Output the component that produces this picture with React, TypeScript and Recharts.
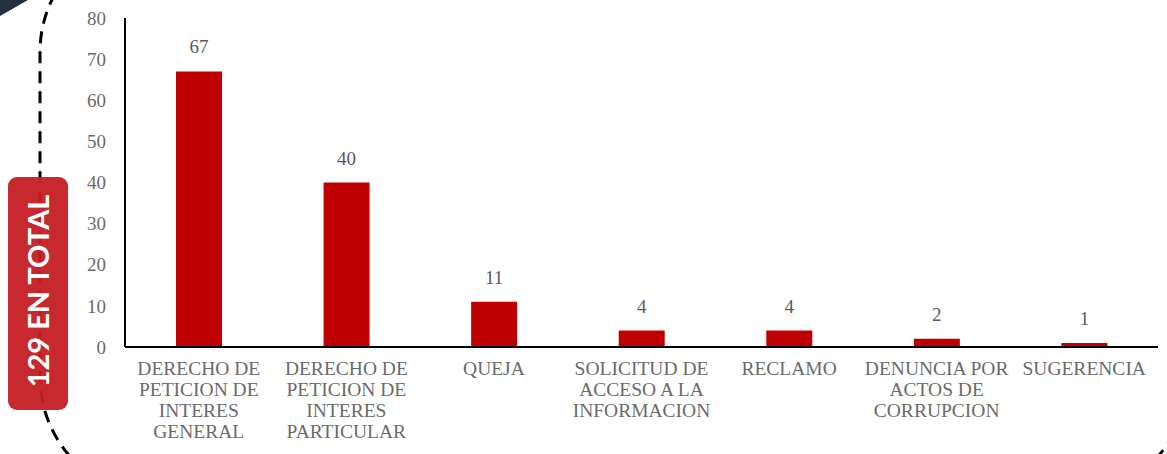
import React from 'react';
import { BarChart, Bar, XAxis, YAxis, LabelList } from 'recharts';

const categories = [
  'DERECHO DE PETICION DE INTERES GENERAL',
  'DERECHO DE PETICION DE INTERES PARTICULAR',
  'QUEJA',
  'SOLICITUD DE ACCESO A LA INFORMACION',
  'RECLAMO',
  'DENUNCIA POR ACTOS DE CORRUPCION',
  'SUGERENCIA',
];
const labelLines: string[][] = [
  ['DERECHO DE', 'PETICION DE', 'INTERES', 'GENERAL'],
  ['DERECHO DE', 'PETICION DE', 'INTERES', 'PARTICULAR'],
  ['QUEJA'],
  ['SOLICITUD DE', 'ACCESO A LA', 'INFORMACION'],
  ['RECLAMO'],
  ['DENUNCIA POR', 'ACTOS DE', 'CORRUPCION'],
  ['SUGERENCIA'],
];
const values = [67, 40, 11, 4, 4, 2, 1];
const yTicks = [0, 10, 20, 30, 40, 50, 60, 70, 80];
const totalLabel = '129 EN TOTAL';

const data = categories.map((c, i) => ({ name: c, value: values[i], idx: i }));

const FONT = '"Liberation Serif", "Times New Roman", serif';

const CatTick = (props: any) => {
  const { x, y, payload } = props;
  const idx = categories.indexOf(payload.value);
  const lines = labelLines[idx] || [payload.value];
  return (
    <text x={x} y={y} textAnchor="middle" fill="#6a6a6a" fontFamily={FONT} fontSize={19.5}>
      {lines.map((l, i) => (
        <tspan key={i} x={x} y={y + 20 + i * 21}>
          {l}
        </tspan>
      ))}
    </text>
  );
};

export default function App() {
  return (
    <div style={{ position: 'absolute', left: 0, top: 0, width: 1167, height: 454, overflow: 'hidden', background: '#fff' }}>
      <svg width={1167} height={454} style={{ position: 'absolute', left: 0, top: 0 }}>
        <polygon points="0,0 28,0 0,16" fill="#232f3e" />
        <rect
          x={40}
          y={-68}
          width={1148}
          height={565}
          rx={120}
          ry={120}
          fill="none"
          stroke="#000"
          strokeWidth={3}
          strokeDasharray="12 8"
        />
        <rect x={8} y={177} width={60} height={233} rx={9} ry={9} fill="#c41e24" fillOpacity={0.95} />
        <text
          x={0}
          y={0}
          transform="translate(49,291) rotate(-90)"
          textAnchor="middle"
          fill="#fff"
          fontFamily="Lato, 'Open Sans', sans-serif"
          fontWeight={700}
          fontSize={29}
        >
          {totalLabel}
        </text>
      </svg>
      <div style={{ position: 'absolute', left: 0, top: 0 }}>
        <BarChart
          width={1167}
          height={454}
          data={data}
          margin={{ top: 18, right: 9, bottom: 0, left: 0 }}
          barSize={46}
        >
          <YAxis
            width={125}
            domain={[0, 80]}
            ticks={yTicks}
            interval={0}
            tickLine={false}
            tickSize={0}
            tickMargin={19}
            axisLine={{ stroke: '#000', strokeWidth: 2 }}
            tick={{ fill: '#6a6a6a', fontFamily: FONT, fontSize: 19 }}
          />
          <XAxis
            dataKey="name"
            height={107}
            interval={0}
            tickLine={false}
            axisLine={{ stroke: '#000', strokeWidth: 2 }}
            tick={<CatTick />}
          />
          <Bar dataKey="value" fill="#c00000" isAnimationActive={false}>
            <LabelList
              dataKey="value"
              position="top"
              offset={18}
              fill="#595959"
              fontFamily={FONT}
              fontSize={19}
            />
          </Bar>
        </BarChart>
      </div>
    </div>
  );
}
